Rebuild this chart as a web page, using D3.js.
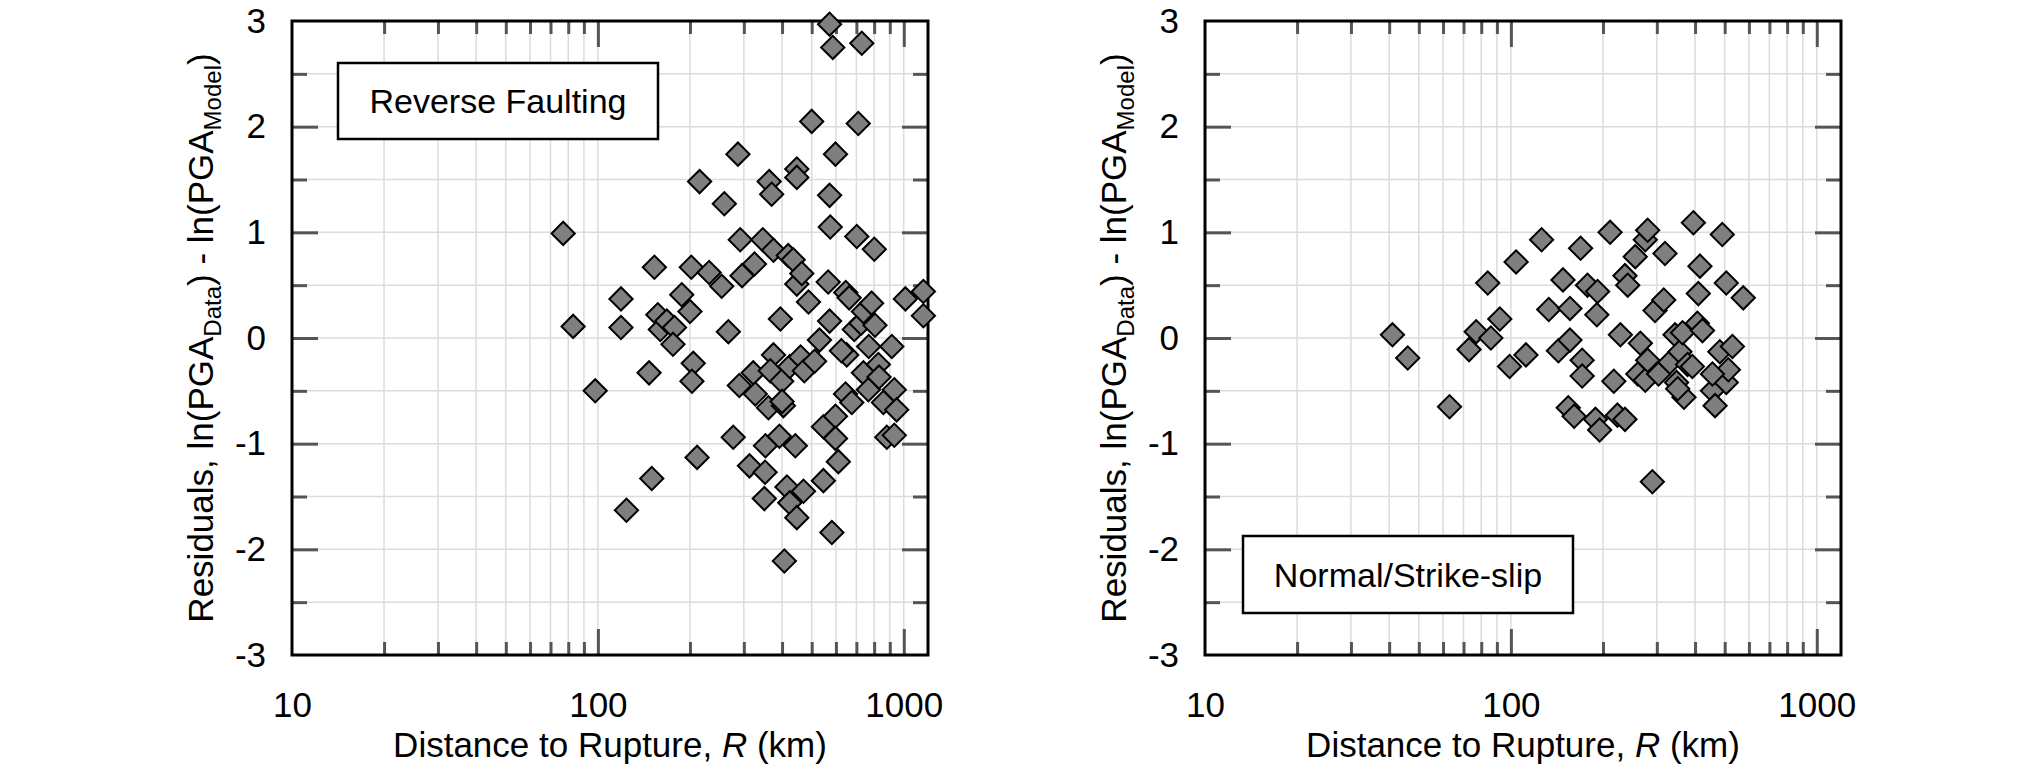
<!DOCTYPE html>
<html>
<head>
<meta charset="utf-8">
<script src="https://cdn.jsdelivr.net/npm/d3@7"></script>
<style>
    body { margin: 0; background: #fff; }
    svg text { font-family: "Liberation Sans", Arial, sans-serif; fill: #000; }
</style>
</head>
<body>
<div id="chart"></div>
<script>
// reverse faulting: distance (km) and residual
var reverseDist = [77, 83, 98, 119, 119, 124, 147, 150, 153, 157, 160, 168, 178, 176, 188, 200, 202, 205, 203, 211,
    215, 231, 254, 259, 267, 277, 287, 292, 296, 290, 313, 322, 325, 327, 346, 350, 352, 353, 363, 370,
    375, 375, 366, 361, 392, 395, 399, 404, 407, 415, 419, 424, 424, 435, 447, 447, 447, 447, 442, 464,
    460, 470, 488, 473, 500, 530, 546, 546, 575, 572, 572, 566, 572, 586, 582, 598, 598, 611, 646, 663,
    651, 645, 676, 689, 702, 710, 729, 725, 738, 738, 766, 768, 785, 801, 805, 826, 830, 858, 880, 914,
    931, 948, 931, 1012, 1159, 1159, 511, 598, 625, 400];
var reverseResid = [0.99, 0.11, -0.50, 0.37, 0.10, -1.63, -0.33, -1.33, 0.67, 0.22, 0.08, 0.16, 0.10, -0.06, 0.41, 0.25, 0.67, -0.24, -0.41, -1.13,
    1.48, 0.62, 0.49, 1.27, 0.06, -0.94, 1.74, 0.93, 0.59, -0.45, -1.21, -0.33, 0.70, -0.53, 0.93, -1.52, -1.27, -1.02, 1.48, 1.36,
    0.83, -0.16, -0.31, -0.66, -0.93, 0.18, -0.41, -0.64, -2.11, -1.41, 0.78, -1.56, -0.27, 0.74, -1.70, 1.60, 1.52, 0.51, -1.02, 0.61,
    -0.18, -1.45, 0.34, -0.31, 2.05, -0.02, -1.35, -0.84, 1.05, 1.35, 0.16, 0.53, 2.97, 2.75, -1.84, 1.74, -0.74, -1.17, 0.43, 0.38,
    -0.16, -0.53, -0.61, 0.08, 0.96, 2.03, 2.79, 0.14, 0.25, -0.33, -0.49, -0.08, 0.33, 0.84, 0.12, -0.25, -0.37, -0.61, -0.94, -0.08,
    -0.49, -0.68, -0.92, 0.37, 0.44, 0.21, -0.22, -0.95, -0.12, -0.60];

// normal / strike-slip faulting
var normalDist = [41, 46, 63, 73, 77, 84, 86, 92, 99, 104, 112, 126, 133, 143, 148, 156, 156, 154, 161, 169,
    171, 171, 178, 192, 191, 189, 195, 211, 217, 223, 228, 236, 236, 241, 255, 260, 265, 275, 280, 275,
    280, 296, 304, 290, 316, 319, 331, 344, 348, 357, 364, 368, 378, 392, 395, 407, 410, 415, 423, 456,
    465, 482, 491, 506, 506, 514, 530, 575, 351, 456];
var normalResid = [0.03, -0.19, -0.65, -0.11, 0.06, 0.52, 0.00, 0.18, -0.27, 0.72, -0.16, 0.93, 0.27, -0.12, 0.55, 0.28, -0.02, -0.66, -0.74, 0.85,
    -0.21, -0.36, 0.50, 0.44, 0.22, -0.77, -0.87, 1.00, -0.41, -0.73, 0.03, -0.77, 0.59, 0.50, 0.77, -0.34, -0.05, 0.93, 1.02, -0.40,
    -0.21, 0.26, -0.34, -1.36, 0.36, 0.80, -0.23, 0.03, -0.42, -0.13, 0.05, -0.56, -0.25, -0.27, 1.09, 0.14, 0.42, 0.68, 0.07, -0.50,
    -0.64, -0.13, 0.98, 0.52, -0.42, -0.30, -0.08, 0.38, -0.48, -0.34];

var xTickLabels = [10, 100, 1000];
var xMinorTicks = [20, 30, 40, 50, 60, 70, 80, 90, 200, 300, 400, 500, 600, 700, 800, 900];
var xMajorTicks = [100, 1000];
var yLabelTicks = [-3, -2, -1, 0, 1, 2, 3];
var yMinorTicks = [-2.5, -1.5, -0.5, 0.5, 1.5, 2.5];
var yGridTicks = [-2.5, -2, -1.5, -1, -0.5, 0, 0.5, 1, 1.5, 2, 2.5];

var width = 2031;
var height = 765;

var svg = d3.select('#chart')
    .append('svg')
    .attr('width', width)
    .attr('height', height);

function drawPanel(left, dist, resid, label, box) {
    var right = left + 636;
    var top = 21, bottom = 655;

    var xScale = d3.scaleLog().domain([10, 1200]).range([left, right]);
    var yScale = d3.scaleLinear().domain([-3, 3]).range([bottom, top]);

    var g = svg.append('g');

    // grid
    g.append('g').selectAll('line')
        .data(xMinorTicks.concat(xMajorTicks))
        .enter().append('line')
        .attr('x1', function (d) { return xScale(d); })
        .attr('x2', function (d) { return xScale(d); })
        .attr('y1', top).attr('y2', bottom)
        .attr('stroke', '#dcdcdc').attr('stroke-width', 1.5);
    g.append('g').selectAll('line')
        .data(yGridTicks)
        .enter().append('line')
        .attr('x1', left).attr('x2', right)
        .attr('y1', function (d) { return yScale(d); })
        .attr('y2', function (d) { return yScale(d); })
        .attr('stroke', '#dcdcdc').attr('stroke-width', 1.5);

    // inward ticks
    function ticks(axis, pos, values, size) {
        var a = g.append('g')
            .attr('transform', pos)
            .call(axis(values === xMinorTicks || values === xMajorTicks ? xScale : yScale)
                .tickValues(values).tickSize(size).tickFormat(''));
        a.select('.domain').remove();
        a.selectAll('line').attr('stroke', '#555').attr('stroke-width', 3);
    }
    ticks(d3.axisBottom, 'translate(0,' + bottom + ')', xMinorTicks, -13);
    ticks(d3.axisBottom, 'translate(0,' + bottom + ')', xMajorTicks, -26);
    ticks(d3.axisTop, 'translate(0,' + top + ')', xMinorTicks, -13);
    ticks(d3.axisTop, 'translate(0,' + top + ')', xMajorTicks, -26);
    ticks(d3.axisLeft, 'translate(' + left + ',0)', yMinorTicks, -15);
    ticks(d3.axisLeft, 'translate(' + left + ',0)', yLabelTicks.slice(1, -1), -26);
    ticks(d3.axisRight, 'translate(' + right + ',0)', yMinorTicks, -15);
    ticks(d3.axisRight, 'translate(' + right + ',0)', yLabelTicks.slice(1, -1), -26);

    // tick labels
    var xl = g.append('g')
        .attr('transform', 'translate(0,' + bottom + ')')
        .call(d3.axisBottom(xScale).tickValues(xTickLabels).tickSize(0).tickPadding(37)
            .tickFormat(function (d) { return String(d); }));
    xl.select('.domain').remove();
    xl.selectAll('text').attr('font-size', 35).attr('font-family', '"Liberation Sans", Arial, sans-serif');

    var yl = g.append('g')
        .attr('transform', 'translate(' + left + ',0)')
        .call(d3.axisLeft(yScale).tickValues(yLabelTicks).tickSize(0).tickPadding(26)
            .tickFormat(function (d) { return String(d); }));
    yl.select('.domain').remove();
    yl.selectAll('text').attr('font-size', 35).attr('font-family', '"Liberation Sans", Arial, sans-serif');

    // frame
    g.append('rect')
        .attr('x', left).attr('y', top)
        .attr('width', right - left).attr('height', bottom - top)
        .attr('fill', 'none').attr('stroke', '#000').attr('stroke-width', 3);

    // points
    var pts = dist.map(function (d, i) { return [d, resid[i]]; });
    g.append('g').selectAll('path')
        .data(pts)
        .enter().append('path')
        .attr('d', d3.symbol().type(d3.symbolSquare).size(270))
        .attr('transform', function (d) {
            return 'translate(' + xScale(d[0]) + ',' + yScale(d[1]) + ') rotate(45)';
        })
        .attr('fill', '#7f7f7f')
        .attr('stroke', '#000')
        .attr('stroke-width', 2);

    // label box
    g.append('rect')
        .attr('x', box.x).attr('y', box.y)
        .attr('width', box.w).attr('height', box.h)
        .attr('fill', '#fff').attr('stroke', '#000').attr('stroke-width', 2.5);
    g.append('text')
        .attr('x', box.x + box.w / 2).attr('y', box.y + box.h / 2 + 12)
        .attr('text-anchor', 'middle')
        .attr('font-size', 34)
        .text(label);

    // axis titles
    var xt = g.append('text')
        .attr('x', (left + right) / 2).attr('y', 757)
        .attr('text-anchor', 'middle')
        .attr('font-size', 35);
    xt.append('tspan').text('Distance to Rupture, ');
    xt.append('tspan').attr('font-style', 'italic').text('R');
    xt.append('tspan').text(' (km)');

    var yt = g.append('text')
        .attr('transform', 'translate(' + (left - 79) + ',' + ((top + bottom) / 2) + ') rotate(-90)')
        .attr('text-anchor', 'middle')
        .attr('font-size', 35);
    yt.append('tspan').text('Residuals, ln(PGA');
    yt.append('tspan').attr('font-size', 24).attr('dy', 8).text('Data');
    yt.append('tspan').attr('dy', -8).text(') - ln(PGA');
    yt.append('tspan').attr('font-size', 24).attr('dy', 8).text('Model');
    yt.append('tspan').attr('dy', -8).text(')');
}

drawPanel(292, reverseDist, reverseResid, 'Reverse Faulting', { x: 338, y: 63, w: 320, h: 76 });
drawPanel(1205, normalDist, normalResid, 'Normal/Strike-slip', { x: 1243, y: 536, w: 330, h: 77 });
</script>
</body>
</html>
